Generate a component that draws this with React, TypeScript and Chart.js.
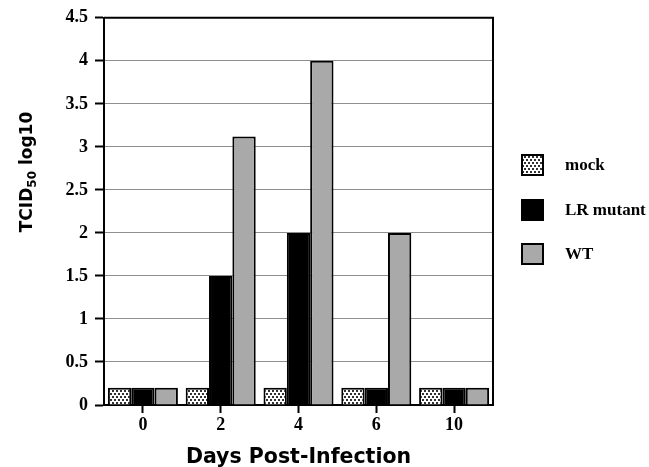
import React, { useEffect, useRef } from 'react';
import { Chart, registerables } from 'chart.js';

Chart.register(...registerables);

const days = ['0', '2', '4', '6', '10'];
const seriesNames = ['mock', 'LR mutant', 'WT'];
const mockValues = [0.2, 0.2, 0.2, 0.2, 0.2];
const lrMutantValues = [0.2, 1.5, 2.0, 0.2, 0.2];
const wtValues = [0.2, 3.12, 4.0, 2.0, 0.2];
const yMin = 0;
const yMax = 4.5;
const yStep = 0.5;
const xTitle = 'Days Post-Infection';
const yTitleMain = 'TCID';
const yTitleSub = '50';
const yTitleTail = ' log10';

function makeDotPattern(): CanvasPattern | string {
  const pc = document.createElement('canvas');
  pc.width = 4;
  pc.height = 6;
  const p = pc.getContext('2d');
  if (!p) return '#ddd';
  p.fillStyle = '#ffffff';
  p.fillRect(0, 0, 4, 6);
  p.fillStyle = '#333333';
  p.fillRect(0, 0, 2, 2);
  p.fillRect(2, 3, 2, 2);
  const pat = p.createPattern(pc, 'repeat');
  return pat || '#ddd';
}

const serif = "'Liberation Serif', 'Times New Roman', serif";
const sans = "'DejaVu Sans', Verdana, sans-serif";

const extrasPlugin = {
  id: 'extras',
  afterDraw(chart: any) {
    const { ctx, chartArea } = chart;
    ctx.save();
    // frame top & right
    ctx.strokeStyle = '#000';
    ctx.lineWidth = 2;
    ctx.beginPath();
    ctx.moveTo(chartArea.left, chartArea.top);
    ctx.lineTo(chartArea.right, chartArea.top);
    ctx.lineTo(chartArea.right, chartArea.bottom);
    ctx.stroke();

    // Y title with subscript
    ctx.fillStyle = '#000';
    ctx.translate(26, 172);
    ctx.rotate(-Math.PI / 2);
    const mainFont = `bold 17px ${sans}`;
    const subFont = `bold 12px ${sans}`;
    ctx.font = mainFont;
    const w1 = ctx.measureText(yTitleMain).width;
    const w3 = ctx.measureText(yTitleTail).width;
    ctx.font = subFont;
    const w2 = ctx.measureText(yTitleSub).width;
    let x = -(w1 + w2 + w3) / 2;
    ctx.textBaseline = 'alphabetic';
    ctx.textAlign = 'left';
    ctx.font = mainFont;
    ctx.fillText(yTitleMain, x, 6);
    x += w1;
    ctx.font = subFont;
    ctx.fillText(yTitleSub, x, 10);
    x += w2;
    ctx.font = mainFont;
    ctx.fillText(yTitleTail, x, 6);
    ctx.restore();

    // legend
    ctx.save();
    const boxX = 522;
    const boxW = 21;
    const centers = [165, 210, 254];
    chart.data.datasets.forEach((ds: any, i: number) => {
      const cy = centers[i];
      ctx.fillStyle = ds.backgroundColor;
      ctx.fillRect(boxX, cy - 10, boxW, 20);
      ctx.strokeStyle = '#000';
      ctx.lineWidth = 2;
      ctx.strokeRect(boxX, cy - 10, boxW, 20);
      ctx.fillStyle = '#000';
      ctx.font = `bold 17px ${serif}`;
      ctx.textBaseline = 'middle';
      ctx.textAlign = 'left';
      ctx.fillText(ds.label, 565, cy + 1);
    });
    ctx.restore();
  },
};

export default function App() {
  const ref = useRef<HTMLCanvasElement | null>(null);
  useEffect(() => {
    document.body.style.margin = '0';
    const canvas = ref.current;
    if (!canvas) return;
    const pattern = makeDotPattern();
    const chart = new Chart(canvas, {
      type: 'bar',
      data: {
        labels: days,
        datasets: [
          { label: seriesNames[0], data: mockValues, backgroundColor: pattern as any, borderColor: '#000', borderWidth: 2 },
          { label: seriesNames[1], data: lrMutantValues, backgroundColor: '#000000', borderColor: '#000', borderWidth: 2 },
          { label: seriesNames[2], data: wtValues, backgroundColor: '#a9a9a9', borderColor: '#000', borderWidth: 2 },
        ],
      },
      options: {
        responsive: false,
        animation: false,
        events: [],
        layout: { padding: { top: 17, right: 156, left: 0, bottom: 0 } },
        datasets: { bar: { categoryPercentage: 0.9, barPercentage: 1.0 } },
        plugins: { legend: { display: false }, tooltip: { enabled: false }, title: { display: false } },
        scales: {
          x: {
            type: 'category',
            offset: true,
            grid: { drawOnChartArea: false, offset: false, drawTicks: true, tickLength: 8, tickColor: '#000', tickWidth: 2 },
            border: { display: true, color: '#000', width: 2 },
            ticks: { color: '#000', font: { family: serif, weight: 'bold', size: 18 }, padding: 2, maxRotation: 0 },
            title: { display: true, text: xTitle, color: '#000', font: { family: sans, weight: 'bold', size: 20.5 }, padding: { top: 0, bottom: -3 } },
            afterFit: (scale: any) => { scale.height = 62; },
          },
          y: {
            min: yMin,
            max: yMax,
            ticks: {
              stepSize: yStep,
              color: '#000',
              font: { family: serif, weight: 'bold', size: 18 },
              padding: 7,
              callback: (v: any) => String(v),
            },
            grid: {
              color: (c: any) => (c.tick && c.tick.value === yMin ? 'rgba(0,0,0,0)' : '#8f8f8f'),
              lineWidth: 1,
              tickLength: 9,
              tickColor: '#000',
              tickWidth: 2,
            },
            border: { display: true, color: '#000', width: 2 },
            afterFit: (scale: any) => { scale.width = 104; },
          },
        },
      },
      plugins: [extrasPlugin],
    } as any);
    return () => chart.destroy();
  }, []);
  return (
    <div style={{ width: 649, height: 467, background: '#fff' }}>
      <canvas ref={ref} width={649} height={467} style={{ display: 'block' }} />
    </div>
  );
}
